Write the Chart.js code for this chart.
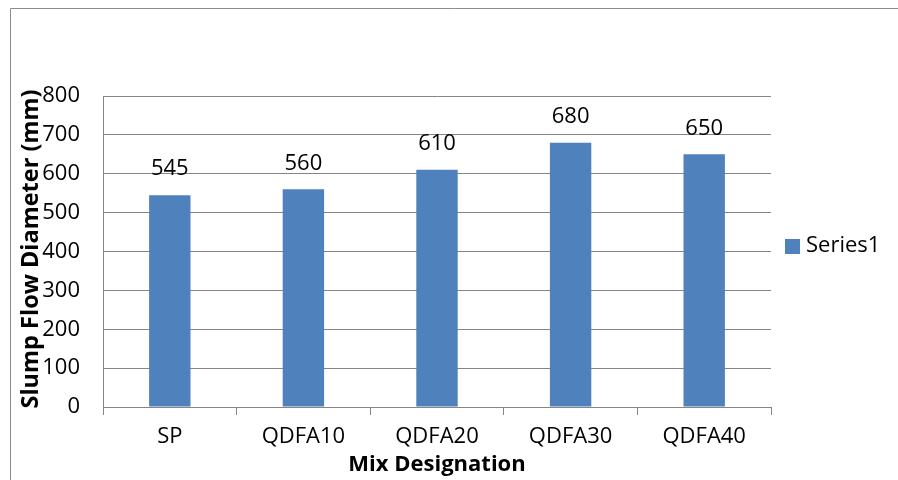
<!DOCTYPE html>
<html>
<head>
<meta charset="utf-8">
<script src="https://cdn.jsdelivr.net/npm/chart.js@4.4.1/dist/chart.umd.min.js"></script>
<style>
  html, body { margin: 0; padding: 0; background: #fff; }
  #wrap { width: 898px; height: 480px; }
</style>
</head>
<body>
<div id="wrap"><canvas id="c" width="898" height="480"></canvas></div>
<script>
const mixes = ['SP', 'QDFA10', 'QDFA20', 'QDFA30', 'QDFA40'];
const slumpFlow = [545, 560, 610, 680, 650];
const seriesName = 'Series1';
const yTitle = 'Slump Flow Diameter (mm)';
const xTitle = 'Mix Designation';

const FONT = "'Open Sans', 'Liberation Sans', sans-serif";
const GRID = '#868686';
const BAR = '#4F81BD';

// frame, value labels, axis titles and legend
const decor = {
  id: 'decor',
  beforeDraw(chart) {
    const ctx = chart.ctx;
    ctx.save();
    ctx.fillStyle = '#fff';
    ctx.fillRect(0, 0, chart.width, chart.height);
    ctx.strokeStyle = '#8c8c8c';
    ctx.lineWidth = 1;
    ctx.beginPath();
    ctx.moveTo(10.5, chart.height);
    ctx.lineTo(10.5, 8.5);
    ctx.lineTo(chart.width, 8.5);
    ctx.stroke();
    ctx.restore();
  },
  afterDatasetsDraw(chart) {
    const ctx = chart.ctx;
    const meta = chart.getDatasetMeta(0);
    ctx.save();
    ctx.fillStyle = '#000';
    ctx.font = '22px ' + FONT;
    ctx.textAlign = 'center';
    ctx.textBaseline = 'middle';
    meta.data.forEach((bar, i) => {
      ctx.fillText(String(chart.data.datasets[0].data[i]), bar.x, bar.y - 26);
    });

    // y axis title
    ctx.font = 'bold 23.5px ' + FONT;
    ctx.save();
    ctx.translate(31, 249);
    ctx.rotate(-Math.PI / 2);
    ctx.fillText(yTitle, 0, 0);
    ctx.restore();

    // x axis title
    ctx.font = 'bold 22px ' + FONT;
    ctx.fillText(xTitle, 437, 465);

    // legend
    ctx.fillStyle = BAR;
    ctx.fillRect(785, 239, 15, 15);
    ctx.fillStyle = '#000';
    ctx.font = '22px ' + FONT;
    ctx.textAlign = 'left';
    ctx.fillText(chart.data.datasets[0].label, 806, 246);
    ctx.restore();
  }
};

new Chart(document.getElementById('c'), {
  type: 'bar',
  data: {
    labels: mixes,
    datasets: [{
      label: seriesName,
      data: slumpFlow,
      backgroundColor: BAR,
      borderWidth: 0,
      barPercentage: 0.31,
      categoryPercentage: 1
    }]
  },
  options: {
    responsive: false,
    animation: false,
    devicePixelRatio: 1,
    layout: { padding: { left: 0, top: 96, right: 127, bottom: 0 } },
    plugins: { legend: { display: false }, tooltip: { enabled: false } },
    scales: {
      x: {
        afterFit(scale) { scale.height = 73; },
        grid: { offset: true, drawOnChartArea: false, drawTicks: true, tickLength: 8, color: GRID },
        border: { color: GRID, width: 1 },
        ticks: { color: '#000', font: { family: FONT, size: 22 }, padding: 9 }
      },
      y: {
        min: 0,
        max: 800,
        afterFit(scale) { scale.width = 103; },
        ticks: { stepSize: 100, color: '#000', font: { family: FONT, size: 22 }, padding: 23 },
        grid: { color: GRID, drawTicks: false },
        border: { color: GRID, width: 1 }
      }
    }
  },
  plugins: [decor]
});
</script>
</body>
</html>
